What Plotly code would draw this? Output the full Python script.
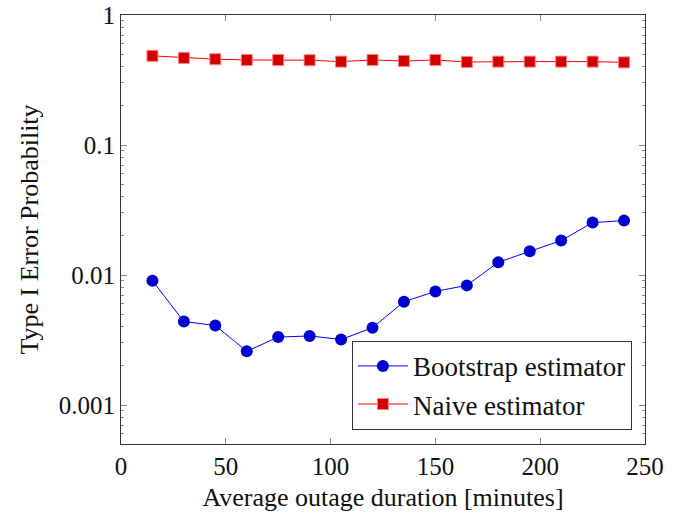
import plotly.graph_objects as go

durations = [15, 30, 45, 60, 75, 90, 105, 120, 135, 150, 165, 180, 195, 210, 225, 240]
bootstrap = [0.00904, 0.00439, 0.00409, 0.00259, 0.00333, 0.0034, 0.00319, 0.00393,
             0.00623, 0.00748, 0.00832, 0.01252, 0.0152, 0.0184, 0.0253, 0.0262]
naive = [0.485, 0.468, 0.457, 0.451, 0.451, 0.449, 0.438, 0.451,
         0.443, 0.451, 0.435, 0.438, 0.438, 0.438, 0.438, 0.432]

x_ticks = [0, 50, 100, 150, 200, 250]
y_tickvals = [0.001, 0.01, 0.1, 1]
y_ticktext = ["0.001", "0.01", "0.1", "1"]
y_minor = [v * m for v in [0.0001, 0.001, 0.01, 0.1] for m in range(2, 10)]

font_family = "Liberation Serif, Times New Roman, serif"

fig = go.Figure()
fig.add_trace(go.Scatter(
    x=durations, y=bootstrap, mode="lines+markers", name="Bootstrap estimator",
    line=dict(color="#0000ff", width=1),
    marker=dict(symbol="circle", size=12, color="#0000d0", line=dict(width=0)),
))
fig.add_trace(go.Scatter(
    x=durations, y=naive, mode="lines+markers", name="Naive estimator",
    line=dict(color="#ff0000", width=1),
    marker=dict(symbol="square", size=11, color="#d00000",
                line=dict(width=1, color="#ff8080")),
))

axis_common = dict(
    showline=True, linecolor="#333333", linewidth=1, mirror="ticks",
    ticks="inside", tickcolor="#888888", ticklen=6,
    showgrid=False, zeroline=False, automargin=False,
    ticklabeloverflow="allow",
    tickfont=dict(family=font_family, size=25, color="#111111"),
)

fig.update_layout(
    width=686, height=521,
    margin=dict(l=121, r=41, t=15, b=77),
    paper_bgcolor="white", plot_bgcolor="white",
    font=dict(family=font_family, size=25, color="#111111"),
    xaxis=dict(
        range=[0, 250], tickvals=x_ticks,
        title=dict(text="Average outage duration [minutes]", standoff=8,
                   font=dict(family=font_family, size=26)),
        **axis_common,
    ),
    yaxis=dict(
        type="log", range=[-3.3, 0], tickvals=y_tickvals, ticktext=y_ticktext,
        title=dict(text="Type I Error Probability", standoff=12,
                   font=dict(family=font_family, size=26)),
        minor=dict(ticks="inside", ticklen=3, tickcolor="#888888", showgrid=False,
                   tickvals=y_minor),
        **axis_common,
    ),
    legend=dict(
        x=0.975, y=0.033, xanchor="right", yanchor="bottom",
        bgcolor="white", bordercolor="#333333", borderwidth=1,
        font=dict(family=font_family, size=27, color="#111111"),
        tracegroupgap=0, itemwidth=50,
    ),
    showlegend=True,
)

fig.write_html("out.html",
               config={"displayModeBar": False},
               post_script="document.body.style.margin='0';document.body.style.padding='0';")
